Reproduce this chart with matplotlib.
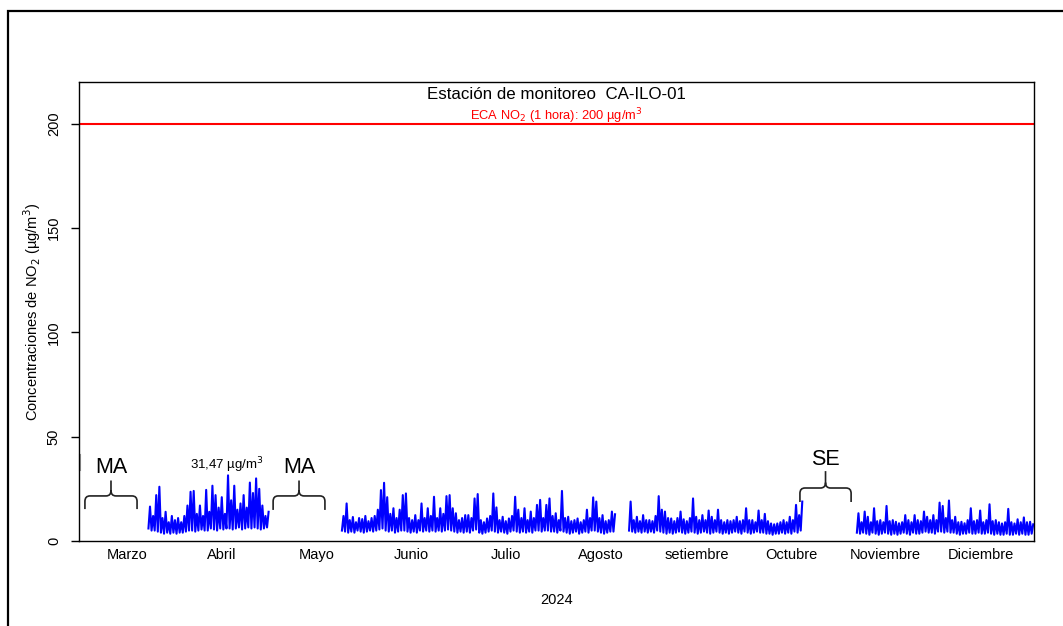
import matplotlib
matplotlib.use("Agg")
import matplotlib.pyplot as plt
from matplotlib.path import Path
from matplotlib.patches import PathPatch, Rectangle

plt.rcParams['font.family'] = ['Liberation Sans', 'DejaVu Sans']

# ---------------- data (days since 1 March 2024; daily min / max, µg/m³) ----------------
month_labels = ["Marzo", "Abril", "Mayo", "Junio", "Julio", "Agosto",
                "setiembre", "Octubre", "Noviembre", "Diciembre"]
month_pos = [15.4, 45.6, 76.0, 106.4, 136.8, 167.2, 198.0, 228.2, 258.4, 289.0]

seg1_start = 22
seg1_max = [16.5, 12, 22, 26, 11, 14, 9, 12, 10, 11,
            9, 12, 17, 23.6, 24, 13, 17, 12, 24.5, 14,
            26.5, 22, 16, 21, 13, 31.47, 19.5, 26.5, 15, 18,
            22, 16, 28, 23, 30, 25, 17, 12, 14]
seg1_min = [6, 5, 5, 4.5, 4, 3.5, 4, 3.5, 4, 3.5,
            4, 4, 4.5, 5, 5, 4.5, 5, 5.5, 5, 5,
            6, 5.5, 5, 6, 5.5, 6, 6, 5.5, 6, 6.5,
            5.5, 6, 6.5, 6, 6.5, 6, 5.5, 6, 6.5]

seg2_start = 84
seg2_max = [12, 18, 10, 11.5, 9, 11, 10.5, 12, 9.5, 11,
            12, 15, 24.4, 27.9, 21, 13, 15.7, 11, 15, 22,
            22.8, 11, 10, 12.4, 10, 18, 11, 15.7, 12, 21.2,
            11, 15.7, 13, 21.5, 22, 15.7, 13.3, 10, 11, 12.4,
            12.4, 11, 20.4, 22.5, 10, 9, 10.8, 12, 22.8, 16.1,
            10, 11.6, 9.5, 10.8, 12, 21.2, 15, 11, 15.7, 10,
            14.1, 11, 17.3, 19.7, 11, 17.3, 20.4, 12, 13.3, 10,
            24, 11, 11.6, 9.5, 10, 10.8, 9, 10, 15, 11,
            20.9, 18.9, 11, 12.4, 9.5, 10, 14.1, 12.8]
seg2_min = [5, 4.5, 4, 4.5, 4, 5, 4.5, 4, 4.5, 5,
            4.5, 5, 5.5, 6, 5, 4.5, 5, 4, 4.5, 5,
            5, 4.5, 4, 4.5, 4, 5, 4.5, 5, 4.5, 5,
            4.5, 5, 4.5, 5, 5.5, 5, 4.5, 4, 4.5, 4,
            4.5, 4, 5, 5.5, 4, 3.5, 4, 4.5, 5, 4.5,
            4, 4.5, 4, 3.5, 4.5, 5, 4.5, 4, 4.5, 4,
            4.5, 4, 5, 5, 4.5, 5, 5, 4.5, 4.5, 4,
            5, 4.5, 4, 3.5, 4, 4.5, 3.5, 4, 4.5, 4,
            5, 5, 4.5, 4, 3.5, 4, 4.5, 4.5]

seg3_start = 176
seg3_max = [18.9, 10, 11.6, 9.5, 12.4, 10, 10, 9.5, 12, 21.5,
            15, 14.1, 11, 10.8, 9.5, 11, 14.1, 10.4, 9.5, 11,
            20.4, 11.6, 10, 12.4, 10, 14.6, 11.6, 10, 15, 10,
            9, 10, 9.5, 10, 11.6, 9.5, 10, 15.7, 10, 10,
            9, 14.6, 10, 13, 9.5, 8.4, 8, 8.4, 9, 10,
            9, 11.6, 10, 17.3, 12.4, 18.9]
seg3_min = [5, 4.5, 4, 4.5, 4, 4.5, 4, 4.5, 4, 5,
            4.5, 4, 3.5, 4, 3.5, 4, 4.5, 4, 3.5, 4,
            4.5, 4, 3.5, 4, 4.5, 4, 3.5, 4, 4.5, 4,
            3.5, 4, 3.5, 4, 4.5, 4, 3.5, 4.5, 4, 3.5,
            4, 4.5, 4, 4, 3.5, 3.5, 3, 3.5, 3.5, 4,
            3.5, 4, 3.5, 4.5, 4, 5]

seg4_start = 249
seg4_max = [13.3, 9, 14.1, 11.6, 9, 15.7, 9.5, 10, 9, 16.8,
            9.5, 10, 9.2, 8.5, 9, 12.4, 10, 9, 12.4, 10,
            9.5, 14.1, 11.6, 10, 12.4, 10, 18.4, 16.8, 11, 19.4,
            10, 11.6, 9, 9.2, 8.5, 10, 15.7, 9.5, 10, 14.6,
            9, 10, 17.6, 9.5, 10, 9, 8.4, 9, 15.4, 9,
            8.4, 10.4, 9, 11.3, 9, 9.2, 8]
seg4_min = [4, 3.5, 4, 3.5, 3, 4, 3.5, 3, 3.5, 4,
            3.5, 3, 3.5, 3, 3.5, 4, 3.5, 3, 4, 3.5,
            3.5, 4, 4.5, 4, 4, 3.5, 4.5, 4.5, 4, 4.5,
            4, 4, 3.5, 3, 3.5, 3.5, 4, 3.5, 3.5, 4,
            3.5, 3.5, 4, 3.5, 3, 3.5, 3, 3, 3.5, 3,
            3, 3.5, 3, 3.5, 3, 3, 3.5]

eca_limit = 200
max_label = "31,47 µg/m$^3$"
max_pos = (47.4, 36.5)

# missing-data brackets: (x0, x1, y_end, y_top, y_tip, label, label_y)
brackets = [
    (1.9, 18.6, 15.3, 21.6, 29.0, "MA", 35.0),
    (62.2, 78.8, 14.9, 21.6, 29.0, "MA", 35.0),
    (231.0, 247.4, 18.7, 25.4, 33.5, "SE", 39.3),
]

# ---------------- figure ----------------
W, H, DPI = 1063, 626, 100
fig = plt.figure(figsize=(W / DPI, H / DPI), dpi=DPI)
fig.patches.append(Rectangle((7.5 / W, -0.1), 1.2, 1 - 10.5 / H + 0.1,
                             transform=fig.transFigure, fill=False,
                             edgecolor='black', linewidth=1.6))

ax = fig.add_axes([79 / W, 1 - 541 / H, (1034 - 79) / W, (541 - 82) / H])
ax.set_xlim(0, 306)
ax.set_ylim(0, 220)

for start, mins, maxs in [(seg1_start, seg1_min, seg1_max),
                          (seg2_start, seg2_min, seg2_max),
                          (seg3_start, seg3_min, seg3_max),
                          (seg4_start, seg4_min, seg4_max)]:
    xs, ys = [], []
    for i, (lo, hi) in enumerate(zip(mins, maxs)):
        xs += [start + i + 0.25, start + i + 0.75]
        ys += [lo, hi]
    ax.plot(xs, ys, color='#0000FF', linewidth=1.5)

ax.axhline(eca_limit, color='#FF0000', linewidth=1.5)
ax.text(153, 203.8, "ECA NO$_2$ (1 hora): 200 µg/m$^3$", color='#FF0000',
        ha='center', va='center', fontsize=9.3)
ax.text(153, 214, "Estación de monitoreo  CA-ILO-01", ha='center',
        va='center', fontsize=12.2)

ax.text(max_pos[0], max_pos[1], max_label, ha='center', va='center', fontsize=9.5)


def brace(x0, x1, y_end, y_top, y_tip, rx=1.6, ry=2.6):
    xm = (x0 + x1) / 2
    verts = [(x0, y_end), (x0, y_top - ry), (x0, y_top), (x0 + rx, y_top),
             (xm - rx, y_top), (xm, y_top), (xm, y_top + ry), (xm, y_tip),
             (xm, y_top + ry), (xm, y_top), (xm + rx, y_top),
             (x1 - rx, y_top), (x1, y_top), (x1, y_top - ry), (x1, y_end)]
    codes = [Path.MOVETO, Path.LINETO, Path.CURVE3, Path.CURVE3,
             Path.LINETO, Path.CURVE3, Path.CURVE3, Path.LINETO,
             Path.MOVETO, Path.CURVE3, Path.CURVE3,
             Path.LINETO, Path.CURVE3, Path.CURVE3, Path.LINETO]
    return PathPatch(Path(verts, codes), fill=False, edgecolor='#222222',
                     linewidth=1.2)


for x0, x1, ye, yt, ytip, lab, ly in brackets:
    ax.add_patch(brace(x0, x1, ye, yt, ytip))
    ax.text((x0 + x1) / 2, ly, lab, ha='center', va='center', fontsize=15.5)

# small grey mark at the left edge
ax.plot([0.3, 0.3], [34, 41], color='#999999', linewidth=1.5, clip_on=False)

ax.set_yticks([0, 50, 100, 150, 200])
ax.tick_params(axis='y', length=6, width=1, pad=7, labelsize=10.5, labelrotation=90)
for lbl in ax.get_yticklabels():
    lbl.set_va('center')
ax.set_xticks(month_pos)
ax.set_xticklabels(month_labels)
ax.tick_params(axis='x', length=0, pad=5, labelsize=10.5)
for sp in ax.spines.values():
    sp.set_linewidth(1.0)

ax.set_ylabel("Concentraciones de NO$_2$ (µg/m$^3$)", fontsize=10.5, labelpad=3)
fig.text(556.5 / W, 1 - 600 / H, "2024", ha='center', va='center', fontsize=10.5)

fig.savefig("out.png", dpi=DPI)
